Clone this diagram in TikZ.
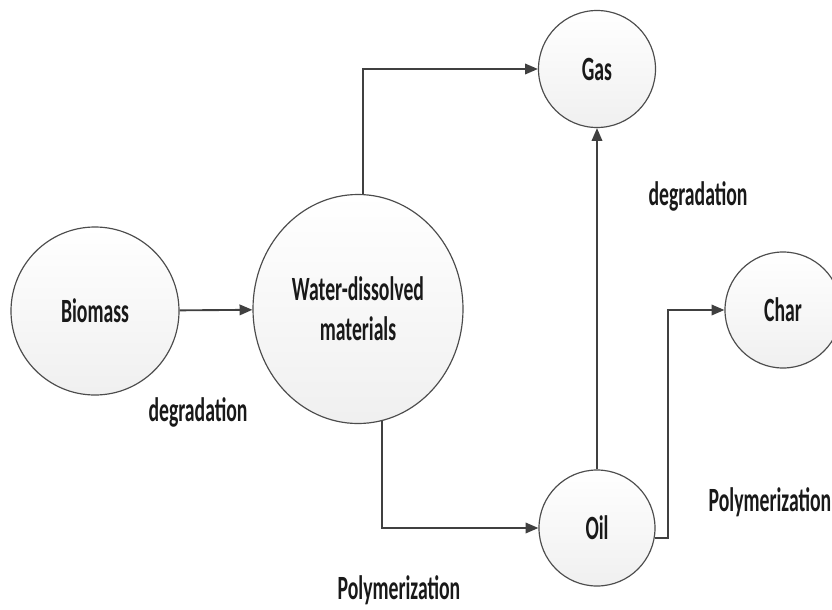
\documentclass[tikz,border=0pt]{standalone}
\usepackage{fontspec}
\setmainfont{Carlito}[FakeStretch=0.58]
\usetikzlibrary{arrows.meta}
\usetikzlibrary{shapes.geometric}

\tikzset{
  stage/.style={circle, draw=gray!60!black, line width=1pt, top color=white, bottom color=gray!12, inner sep=0pt, align=center, text=black!90, font=\bfseries\fontsize{29}{34}\selectfont},
  lbl/.style={inner sep=0pt, text=black!90, font=\bfseries\fontsize{29}{34}\selectfont},
  flow/.style={draw=black!75, line width=1.6pt, -{Triangle[length=11pt, width=9pt]}}
}

\begin{document}
\begin{tikzpicture}[x=0.03cm, y=-0.03cm]
      \useasboundingbox (0,0) rectangle (832,609);
      \clip (0,0) rectangle (832,609);
      \fill[white] (0,0) rectangle (832,609);

      \node[stage, minimum size=5.04cm] (biomass) at (95,311) {Biomass};
      \node[stage, ellipse, minimum width=6.3cm, minimum height=6.87cm] (water) at (358,309) {Water-dissolved\\materials};
      \node[stage, minimum size=3.51cm] (gas) at (597,69) {Gas};
      \node[stage, minimum size=3.48cm] (oil) at (597,528) {Oil};
      \node[stage, minimum size=3.48cm] (char) at (783,310) {Char};

      \node[lbl] (degr1) at (198,412) {degradation};
      \node[lbl] (degr2) at (698,196) {degradation};
      \node[lbl] (poly1) at (399,590) {Polymerization};
      \node[lbl] (poly2) at (770,502) {Polymerization};

      \draw[flow] (biomass) -- (water);
      \draw[flow] (water.north) ++(5,0) |- (gas.west);
      \draw[flow] (water.south) ++(24,-3) |- (oil.west);
      \draw[flow] (oil) -- (gas);
      \draw[flow] (oil.-10) -- ++(13,0) |- (char.west);
    \end{tikzpicture}
\end{document}
